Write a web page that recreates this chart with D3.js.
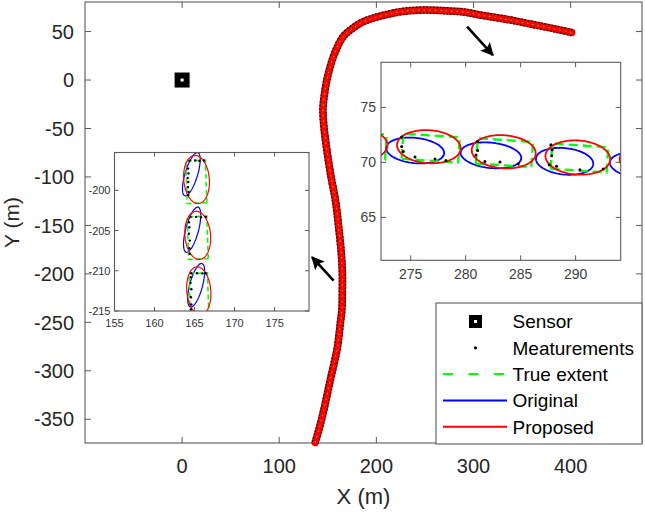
<!DOCTYPE html>
<html><head><meta charset="utf-8">
<script src="https://cdn.jsdelivr.net/npm/d3@7"></script>
<style>body{margin:0;background:#fff} text{font-family:Arial,"Liberation Sans",Helvetica,sans-serif}</style>
</head><body><svg id="c" width="645" height="512"></svg>
<script>
// ---------------- DATA ----------------
const sensorPos = [[0, 0]];
const track = [[137,-374],[141,-360],[146,-340],[152,-312],[157,-290],[160,-275],[163,-250],[164.5,-237],
  [165,-215],[165,-200],[164,-180],[161,-150],[158,-125],[153,-98],[149,-72],[146,-48],[145,-30],[146.5,-15],
  [149,0],[152.5,14],[158,30],[166,45],[175,53],[185,59.5],[197,64],[208,67],[225,70.5],[242,72],[260,72],
  [275,71.2],[290,70.2],[310,66.5],[335,62.5],[360,57.5],[385,52.5],[401,49]];
const mainXTicks = [0, 100, 200, 300, 400];
const mainYTicks = [50, 0, -50, -100, -150, -200, -250, -300, -350];
const arrows = [ {from:[156,-207], to:[133.8,-182.8]}, {from:[293.4,55], to:[320,25.8]} ];

// inset A (vertical section)
const insA_xTicks = [155, 160, 165, 170, 175];
const insA_yTicks = [-215, -210, -205, -200];
const insA_true = [{x:165.22,y:-198.95,len:5.3,wid:2.45,h:92},{x:165.4,y:-205.9,len:5.3,wid:2.45,h:92},{x:165.55,y:-212.95,len:5.3,wid:2.3,h:92}];
const insA_orig = [{x:164.6,y:-198.0,a:2.8,b:0.78,ang:73},{x:164.7,y:-204.9,a:2.9,b:0.8,ang:75},{x:165.2,y:-211.8,a:2.8,b:0.8,ang:75}];
const insA_prop = [{x:165.25,y:-198.65,a:3.0,b:1.6,ang:95},{x:165.4,y:-205.6,a:3.0,b:1.6,ang:95},{x:165.53,y:-212.5,a:3.0,b:1.5,ang:95}];
const insA_meas = [[164.38,-196.33],[165.08,-196.3],[165.62,-196.35],[166.17,-196.3],
  [164.2,-197.3],[164.25,-197.9],[164.15,-198.46],[164.22,-198.96],[164.18,-199.6],[164.25,-200.2],[164.2,-200.6],
  [164.5,-203.33],[165.2,-203.3],[165.8,-203.35],[166.4,-203.3],
  [164.3,-203.96],[164.35,-204.6],[164.3,-205.4],[164.4,-206.25],[164.35,-207.2],[164.4,-207.9],
  [164.6,-210.3],[165.3,-210.3],[166.0,-210.32],[166.4,-210.3],
  [164.55,-210.8],[164.5,-211.5],[164.6,-212.3],[164.55,-213.3],[164.6,-214.2],[164.55,-214.8]];

// inset B (horizontal section)
const insB_xTicks = [275, 280, 285, 290];
const insB_yTicks = [65, 70, 75];
const insB_true = [{x:270.2,y:71.55,len:5.1,wid:2.3,h:-3.8},{x:276.82,y:71.3,len:5.15,wid:2.3,h:-3.8},{x:283.53,y:70.88,len:5.05,wid:2.3,h:-3.8},{x:290.35,y:70.4,len:5.1,wid:2.3,h:-3.8},{x:297.1,y:69.95,len:5.1,wid:2.3,h:-3.8}];
const insB_orig = [{x:268.7,y:71.5,a:2.65,b:1.15,ang:-6},{x:275.4,y:71.08,a:2.65,b:1.15,ang:-6},{x:282.3,y:70.64,a:2.77,b:1.15,ang:-6},{x:289.0,y:70.1,a:2.62,b:1.2,ang:-6},{x:295.75,y:69.75,a:2.65,b:1.15,ang:-6}];
const insB_prop = [{x:270.0,y:71.7,a:2.9,b:1.5,ang:-4},{x:276.65,y:71.43,a:2.9,b:1.5,ang:-4},{x:283.46,y:70.97,a:2.92,b:1.5,ang:-4},{x:290.2,y:70.44,a:2.95,b:1.55,ang:-4},{x:296.9,y:70.15,a:2.9,b:1.5,ang:-4}];
const insB_meas = [[274.18,72.31],[274.18,71.45],[274.33,71.0],[275.39,70.49],[277.21,70.31],[278.21,70.18],
  [281.09,71.91],[281.09,71.09],[280.94,70.67],[281.75,70.09],[283.12,70.04],[284.78,69.88],
  [287.75,71.61],[287.87,71.15],[287.82,70.61],[287.6,69.79],[288.27,69.64],[290.39,69.34],[292.5,69.4]];

const legendItems = ["Sensor", "Meaturements", "True extent", "Original", "Proposed"];

// ---------------- DRAW ----------------
const svg = d3.select("#c");
const TXT = "#262626", FRAME = "#5a5a5a";
const COL = {green:"#00ff00", blue:"#0000ff", red:"#ff0000"};

const mx = d3.scaleLinear().domain([-100, 473.5]).range([85, 642]);
const my = d3.scaleLinear().domain([-374.5, 80.5]).range([443, 2]);

function frame(g, sx, sy, xt, yt, tickLen) {
  const [x0, x1] = sx.range(), [y1, y0] = sy.range();
  g.append("rect").attr("x", x0).attr("y", y0).attr("width", x1 - x0).attr("height", y1 - y0)
    .attr("fill", "none").attr("stroke", FRAME).attr("stroke-width", 1.1);
  xt.forEach(v => {
    g.append("line").attr("x1", sx(v)).attr("x2", sx(v)).attr("y1", y1).attr("y2", y1 - tickLen).attr("stroke", FRAME);
    g.append("line").attr("x1", sx(v)).attr("x2", sx(v)).attr("y1", y0).attr("y2", y0 + tickLen).attr("stroke", FRAME);
  });
  yt.forEach(v => {
    g.append("line").attr("y1", sy(v)).attr("y2", sy(v)).attr("x1", x0).attr("x2", x0 + tickLen).attr("stroke", FRAME);
    g.append("line").attr("y1", sy(v)).attr("y2", sy(v)).attr("x1", x1).attr("x2", x1 - tickLen).attr("stroke", FRAME);
  });
}
function tickLabels(g, sx, sy, xt, yt, fs, xOff, yOff, color) {
  const [x0] = sx.range(), [y1] = sy.range();
  g.selectAll(null).data(xt).enter().append("text").attr("x", d => sx(d)).attr("y", y1 + xOff)
    .attr("text-anchor", "middle").attr("font-size", fs).attr("fill", color).text(d => d);
  g.selectAll(null).data(yt).enter().append("text").attr("x", x0 - yOff).attr("y", d => sy(d))
    .attr("dy", "0.36em").attr("text-anchor", "end").attr("font-size", fs).attr("fill", color).text(d => d);
}

// main axes
const gm = svg.append("g");
frame(gm, mx, my, mainXTicks, mainYTicks, 6);
tickLabels(gm, mx, my, mainXTicks, mainYTicks, 20, 30, 11, TXT);
gm.append("text").attr("x", (85 + 642) / 2).attr("y", 504).attr("text-anchor", "middle")
  .attr("font-size", 22).attr("fill", TXT).text("X (m)");
gm.append("text").attr("transform", `translate(19,${(2 + 443) / 2}) rotate(-90)`).attr("text-anchor", "middle")
  .attr("font-size", 21).attr("fill", TXT).text("Y (m)");

// trajectory band
const line = d3.line().x(d => mx(d[0])).y(d => my(d[1])).curve(d3.curveCatmullRom);
gm.append("path").attr("d", line(track)).attr("fill", "none").attr("stroke", "#e00000").attr("stroke-width", 7.5).attr("stroke-linecap", "round");
gm.append("path").attr("d", line(track)).attr("fill", "none").attr("stroke", "#111").attr("stroke-width", 7.5).attr("stroke-dasharray", "1.6,1.8");
gm.append("path").attr("d", line(track)).attr("fill", "none").attr("stroke", COL.red).attr("stroke-width", 5).attr("stroke-linecap", "round");
gm.append("path").attr("d", line(track)).attr("fill", "none").attr("stroke", "#66cc33").attr("stroke-width", 1).attr("stroke-dasharray", "1.5,4");

// sensor
sensorPos.forEach(p => {
  gm.append("rect").attr("x", mx(p[0]) - 7.5).attr("y", my(p[1]) - 7.5).attr("width", 15).attr("height", 15).attr("fill", "#000");
  gm.append("rect").attr("x", mx(p[0]) - 1.5).attr("y", my(p[1]) - 1.5).attr("width", 3).attr("height", 3).attr("fill", "#fff");
});

// arrows
svg.append("defs").append("marker").attr("id", "ah").attr("viewBox", "0 0 10 10").attr("refX", 9).attr("refY", 5)
  .attr("markerWidth", 5).attr("markerHeight", 5).attr("orient", "auto")
  .append("path").attr("d", "M0,0 L10,5 L0,10 L2,5 Z").attr("fill", "#000");
arrows.forEach(a => {
  gm.append("line").attr("x1", mx(a.from[0])).attr("y1", my(a.from[1])).attr("x2", mx(a.to[0])).attr("y2", my(a.to[1]))
    .attr("stroke", "#000").attr("stroke-width", 2.6).attr("marker-end", "url(#ah)");
});

// helpers
function ellipsePath(sx, sy, e) {
  const th = e.ang * Math.PI / 180;
  const pts = d3.range(0, 361, 4).map(t => {
    t = t * Math.PI / 180;
    const dx = e.a * Math.cos(t), dy = e.b * Math.sin(t);
    return [sx(e.x + dx * Math.cos(th) - dy * Math.sin(th)), sy(e.y + dx * Math.sin(th) + dy * Math.cos(th))];
  });
  return d3.line()(pts) + "Z";
}
function rectPath(sx, sy, r) {
  const th = r.h * Math.PI / 180, L = r.len / 2, W = r.wid / 2;
  const pts = [[-L, -W], [L, -W], [L, W], [-L, W], [-L, -W]].map(([u, v]) =>
    [sx(r.x + u * Math.cos(th) - v * Math.sin(th)), sy(r.y + u * Math.sin(th) + v * Math.cos(th))]);
  return d3.line()(pts);
}

function inset(id, sx, sy, xt, yt, tru, orig, prop, meas, cfg) {
  const g = svg.append("g");
  const [x0, x1] = sx.range(), [y1, y0] = sy.range();
  svg.select("defs").append("clipPath").attr("id", id).append("rect")
    .attr("x", x0).attr("y", y0).attr("width", x1 - x0).attr("height", y1 - y0);
  g.append("rect").attr("x", x0).attr("y", y0).attr("width", x1 - x0).attr("height", y1 - y0).attr("fill", "#fff");
  const c = g.append("g").attr("clip-path", `url(#${id})`);
  c.selectAll(null).data(orig).enter().append("path").attr("d", d => ellipsePath(sx, sy, d))
    .attr("fill", "none").attr("stroke", COL.blue).attr("stroke-width", cfg.lw);
  c.selectAll(null).data(tru).enter().append("path").attr("d", d => rectPath(sx, sy, d))
    .attr("fill", "none").attr("stroke", COL.green).attr("stroke-width", cfg.lw * 1.3).attr("stroke-dasharray", cfg.dash);
  c.selectAll(null).data(prop).enter().append("path").attr("d", d => ellipsePath(sx, sy, d))
    .attr("fill", "none").attr("stroke", COL.red).attr("stroke-width", cfg.lw);
  c.selectAll(null).data(meas).enter().append("circle").attr("cx", d => sx(d[0])).attr("cy", d => sy(d[1]))
    .attr("r", cfg.dot).attr("fill", "#000");
  frame(g, sx, sy, xt, yt, cfg.tick);
  tickLabels(g, sx, sy, xt, yt, cfg.fs, cfg.xOff, cfg.yOff, cfg.color);
}

const ax = d3.scaleLinear().domain([155, 179.3]).range([114.5, 309]);
const ay = d3.scaleLinear().domain([-215, -195.3]).range([311, 152.5]);
inset("clipA", ax, ay, insA_xTicks, insA_yTicks, insA_true, insA_orig, insA_prop, insA_meas,
  {lw: 1.2, dash: "5,3", dot: 1.2, tick: 4, fs: 11, xOff: 16, yOff: 4, color: "#333"});

const bx = d3.scaleLinear().domain([272.3, 294.1]).range([381, 620.7]);
const by = d3.scaleLinear().domain([61.1, 79.1]).range([260.3, 62.3]);
inset("clipB", bx, by, insB_xTicks, insB_yTicks, insB_true, insB_orig, insB_prop, insB_meas,
  {lw: 1.8, dash: "9,5", dot: 1.5, tick: 5, fs: 14, xOff: 19, yOff: 5, color: "#404040"});

// legend
const lg = svg.append("g");
lg.append("rect").attr("x", 436).attr("y", 303).attr("width", 206).attr("height", 141)
  .attr("fill", "#fff").attr("stroke", FRAME).attr("stroke-width", 1.1);
const ly = i => 321.5 + i * 26.3;
legendItems.forEach((t, i) => {
  lg.append("text").attr("x", 512.5).attr("y", ly(i)).attr("dy", "0.36em").attr("font-size", 19).attr("fill", "#000").text(t);
});
lg.append("rect").attr("x", 469).attr("y", ly(0) - 6.5).attr("width", 13).attr("height", 13).attr("fill", "#000");
lg.append("rect").attr("x", 474).attr("y", ly(0) - 1.5).attr("width", 3).attr("height", 3).attr("fill", "#fff");
lg.append("circle").attr("cx", 475.5).attr("cy", ly(1)).attr("r", 1.6).attr("fill", "#000");
lg.append("line").attr("x1", 443).attr("x2", 507).attr("y1", ly(2)).attr("y2", ly(2)).attr("stroke", COL.green).attr("stroke-width", 2).attr("stroke-dasharray", "10,15.5");
lg.append("line").attr("x1", 443).attr("x2", 507).attr("y1", ly(3)).attr("y2", ly(3)).attr("stroke", COL.blue).attr("stroke-width", 2);
lg.append("line").attr("x1", 443).attr("x2", 507).attr("y1", ly(4)).attr("y2", ly(4)).attr("stroke", COL.red).attr("stroke-width", 2);
</script></body></html>
